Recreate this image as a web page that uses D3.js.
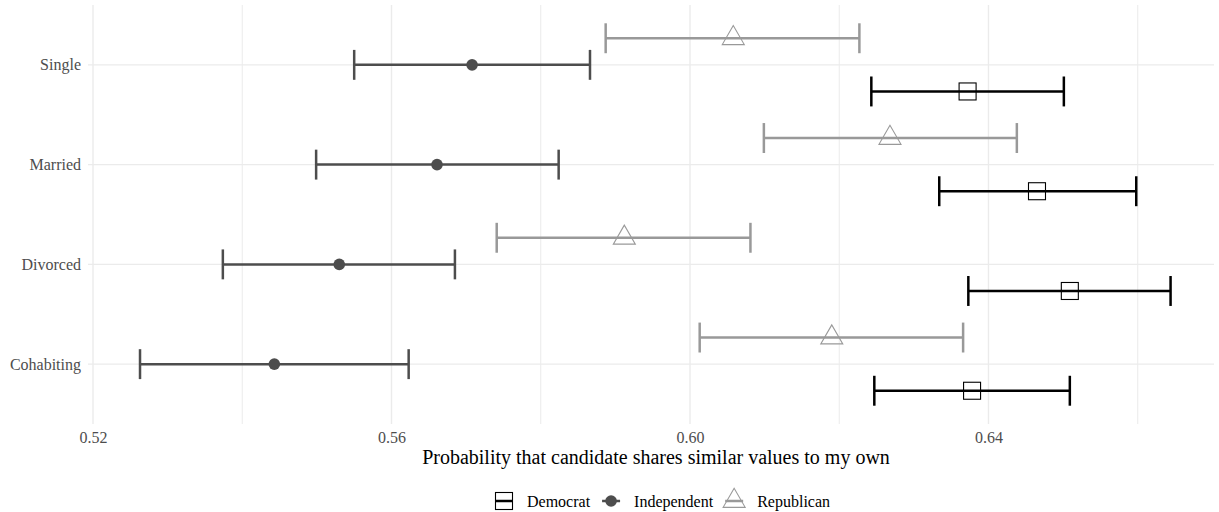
<!DOCTYPE html>
<html>
<head>
<meta charset="utf-8">
<script src="https://cdn.jsdelivr.net/npm/d3@7/dist/d3.min.js"></script>
<style>
  html, body { margin: 0; padding: 0; background: #ffffff; }
  svg { display: block; }
  text { font-family: "Liberation Serif", "DejaVu Serif", serif; }
</style>
</head>
<body>
<svg id="chart" width="1219" height="512"></svg>
<script>
// Marital status groups, top to bottom
const categories = ["Single", "Married", "Divorced", "Cohabiting"];
// Party of the candidate, drawn top to bottom within each group
const parties = ["Republican", "Independent", "Democrat"];

// Estimated probabilities with 95% interval bounds, in category order
const republicanEst   = [0.6058, 0.6268, 0.5912, 0.6190];
const republicanLow   = [0.5887, 0.6099, 0.5741, 0.6013];
const republicanHigh  = [0.6227, 0.6438, 0.6081, 0.6366];

const independentEst  = [0.5708, 0.5661, 0.5530, 0.5443];
const independentLow  = [0.5550, 0.5499, 0.5374, 0.5263];
const independentHigh = [0.5866, 0.5824, 0.5685, 0.5623];

const democratEst     = [0.6372, 0.6465, 0.6509, 0.6378];
const democratLow     = [0.6243, 0.6334, 0.6373, 0.6247];
const democratHigh    = [0.6501, 0.6598, 0.6644, 0.6509];

const xTicks = [0.52, 0.56, 0.60, 0.64];
const xMinor = [0.54, 0.58, 0.62, 0.66];
const xTitle = "Probability that candidate shares similar values to my own";

const seriesValues = {
  Republican:  { est: republicanEst,  low: republicanLow,  high: republicanHigh },
  Independent: { est: independentEst, low: independentLow, high: independentHigh },
  Democrat:    { est: democratEst,    low: democratLow,    high: democratHigh }
};

const rows = [];
parties.forEach(p => {
  categories.forEach((c, i) => {
    rows.push({ party: p, cat: c, est: seriesValues[p].est[i], low: seriesValues[p].low[i], high: seriesValues[p].high[i] });
  });
});

const style = {
  Democrat:    { color: "#000000" },
  Independent: { color: "#4d4d4d" },
  Republican:  { color: "#999999" }
};

const svg = d3.select("#chart");
const panel = { left: 88, right: 1214, top: 5, bottom: 424 };

const x = d3.scaleLinear().domain([0.51933, 0.67022]).range([panel.left, panel.right]);
const y = d3.scalePoint().domain(categories).range([panel.top, panel.bottom]).padding(0.6);
const step = y.step();
const dodge = d3.scalePoint().domain(parties).range([-0.8 * step / 3, 0.8 * step / 3]);
const capHalf = 0.15 * step;

// Grid
const grid = svg.append("g");
grid.selectAll("line.minor").data(xMinor).join("line")
  .attr("x1", d => x(d)).attr("x2", d => x(d))
  .attr("y1", panel.top).attr("y2", panel.bottom)
  .attr("stroke", "#ebebeb").attr("stroke-width", 1);
grid.selectAll("line.majx").data(xTicks).join("line")
  .attr("x1", d => x(d)).attr("x2", d => x(d))
  .attr("y1", panel.top).attr("y2", panel.bottom)
  .attr("stroke", "#ebebeb").attr("stroke-width", 1.4);
grid.selectAll("line.majy").data(categories).join("line")
  .attr("x1", panel.left).attr("x2", panel.right)
  .attr("y1", d => y(d)).attr("y2", d => y(d))
  .attr("stroke", "#ebebeb").attr("stroke-width", 1.4);

// Axes (no domain lines or tick marks)
const xAxis = svg.append("g")
  .attr("transform", `translate(0,${panel.bottom})`)
  .call(d3.axisBottom(x).tickValues(xTicks).tickFormat(d3.format(".2f")).tickSize(0).tickPadding(8));
xAxis.select(".domain").remove();
xAxis.selectAll("text").attr("font-size", 16).attr("fill", "#4d4d4d")
  .attr("font-family", "Liberation Serif");

const yAxis = svg.append("g")
  .attr("transform", `translate(${panel.left},0)`)
  .call(d3.axisLeft(y).tickSize(0).tickPadding(7));
yAxis.select(".domain").remove();
yAxis.selectAll("text").attr("font-size", 16).attr("fill", "#4d4d4d")
  .attr("font-family", "Liberation Serif");

svg.append("text")
  .attr("x", (panel.left + panel.right) / 2 + 5)
  .attr("y", 457)
  .attr("text-anchor", "middle")
  .attr("dominant-baseline", "central")
  .attr("font-size", 20)
  .attr("fill", "#000000")
  .text(xTitle);

// Error bars
const bars = svg.append("g");
rows.forEach(r => {
  const cy = y(r.cat) + dodge(r.party);
  const col = style[r.party].color;
  const g = bars.append("g").attr("stroke", col).attr("stroke-width", 2.5).attr("fill", "none");
  g.append("line").attr("x1", x(r.low)).attr("x2", x(r.high)).attr("y1", cy).attr("y2", cy);
  g.append("line").attr("x1", x(r.low)).attr("x2", x(r.low)).attr("y1", cy - capHalf).attr("y2", cy + capHalf);
  g.append("line").attr("x1", x(r.high)).attr("x2", x(r.high)).attr("y1", cy - capHalf).attr("y2", cy + capHalf);
});

// Point symbols
function drawShape(sel, party, cx, cy) {
  if (party === "Democrat") {
    sel.append("rect").attr("x", cx - 8.5).attr("y", cy - 8.5).attr("width", 17).attr("height", 17)
      .attr("fill", "none").attr("stroke", "#000000").attr("stroke-width", 1.1);
  } else if (party === "Independent") {
    sel.append("circle").attr("cx", cx).attr("cy", cy).attr("r", 5.8).attr("fill", "#4d4d4d");
  } else {
    const h = 19, w = 22;
    const pts = [[cx, cy - 2 * h / 3], [cx - w / 2, cy + h / 3], [cx + w / 2, cy + h / 3]];
    sel.append("path").attr("d", "M" + pts.map(p => p.join(",")).join("L") + "Z")
      .attr("fill", "none").attr("stroke", "#999999").attr("stroke-width", 1.1);
  }
}
const pts = svg.append("g");
rows.forEach(r => drawShape(pts, r.party, x(r.est), y(r.cat) + dodge(r.party)));

// Legend
const legendOrder = ["Democrat", "Independent", "Republican"];
const legend = svg.append("g");
const ly = 501;
let lx = 495;
legendOrder.forEach(p => {
  const kc = lx + 9;
  const col = style[p].color;
  const k = legend.append("g");
  k.append("line").attr("x1", kc - 9).attr("x2", kc + 9).attr("y1", ly).attr("y2", ly)
    .attr("stroke", col).attr("stroke-width", 2.5);
  drawShape(k, p, kc, ly);
  const t = legend.append("text").attr("x", kc + 23).attr("y", ly)
    .attr("dominant-baseline", "central").attr("font-size", 16).attr("fill", "#000000").text(p);
  lx = kc + 23 + t.node().getComputedTextLength() + 12;
});
</script>
</body>
</html>
